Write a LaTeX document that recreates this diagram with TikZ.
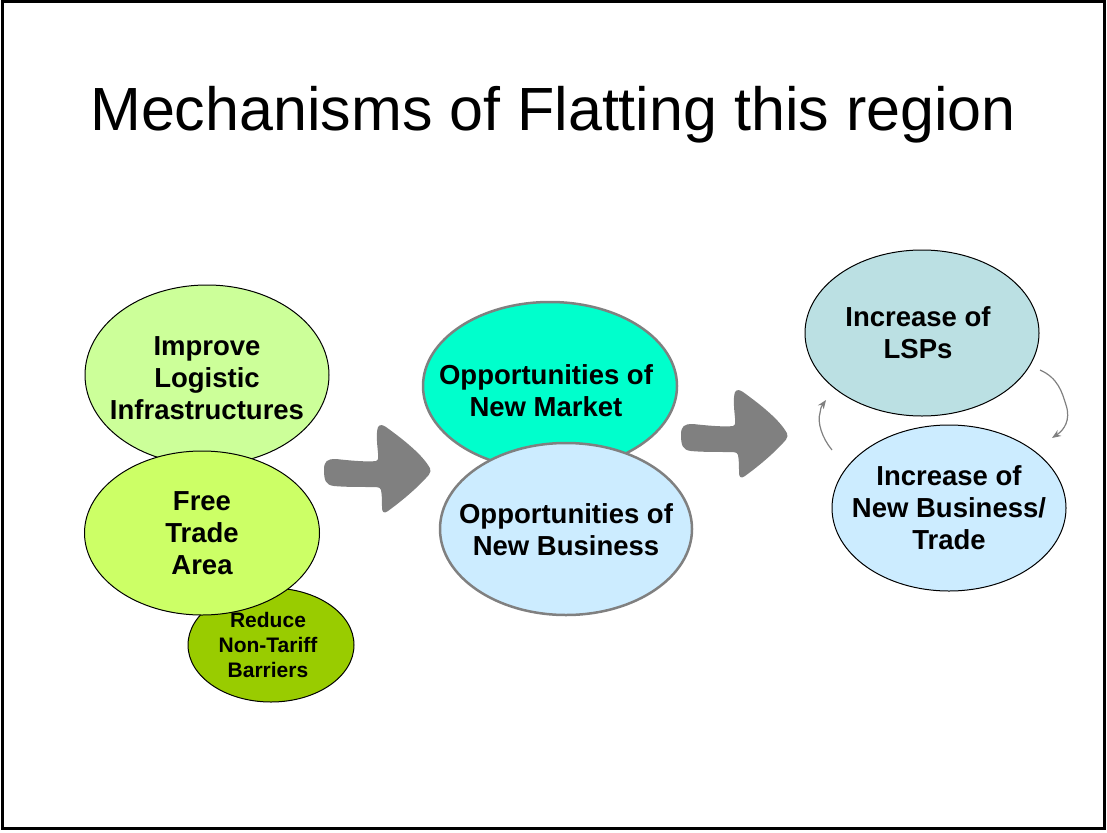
\documentclass[tikz,border=0pt]{standalone}
\usepackage{fontspec}
\setmainfont{Liberation Sans}
\usetikzlibrary{arrows.meta,shapes.geometric}

\definecolor{impgreen}{HTML}{CCFF99}
\definecolor{freegreen}{HTML}{CCFF66}
\definecolor{redgreen}{HTML}{99CC00}
\definecolor{marketcyan}{HTML}{00FFCC}
\definecolor{busblue}{HTML}{CCECFF}
\definecolor{lspteal}{HTML}{BBE0E3}
\definecolor{arrowgray}{HTML}{808080}

\begin{document}
\begin{tikzpicture}[x=1pt,y=-1pt]

\tikzset{
    bubble/.style={ellipse,draw=black,line width=1pt,inner sep=0pt},
    greybubble/.style={bubble,draw=arrowgray,line width=2.5pt},
    txt/.style={align=center,font=\bfseries\fontsize{27.5}{32}\selectfont},
    smalltxt/.style={align=center,font=\bfseries\fontsize{21}{25}\selectfont},
    cycarrow/.style={draw=arrowgray,line width=1.2pt,-{Stealth[length=9pt,width=7pt]}},
    fatarrow/.pic={
        \fill[arrowgray] (0,-3)
            .. controls (0,-12) and (3,-14) .. (12,-14)
            .. controls (30,-12) and (45,-11) .. (52,-12)
            .. controls (55,-13) and (54,-16) .. (54,-20)
            .. controls (53,-30) and (52,-40) .. (54,-46)
            .. controls (56,-49) and (59,-48) .. (62,-46)
            .. controls (80,-33) and (96,-20) .. (104,-8)
            .. controls (108,-3) and (107,0) .. (102,5)
            .. controls (90,18) and (75,30) .. (64,38)
            .. controls (60,41) and (58,39) .. (58,35)
            .. controls (58,28) and (58,22) .. (57,17)
            .. controls (56,14) and (53,14) .. (48,14)
            .. controls (35,14) and (20,14) .. (10,13)
            .. controls (2,12) and (0,8) .. cycle;
    }
}

\useasboundingbox (0,0) rectangle (1107,832);
\draw[line width=3pt] (2,2) rectangle (1104,828);

\node[anchor=base,font=\fontsize{61}{70}\selectfont] (title) at (553,130) {Mechanisms of Flatting this region};

% left group
\node[bubble,fill=impgreen,minimum width=244,minimum height=180] (infra) at (207,375) {};
\node[txt] (infratxt) at ([yshift=-3]infra) {Improve\\Logistic\\Infrastructures};

\node[bubble,fill=redgreen,minimum width=166,minimum height=114] (ntb) at (271,645) {};
\node[smalltxt] (ntbtxt) at ([xshift=-3]ntb) {Reduce\\Non-Tariff\\Barriers};

\node[bubble,fill=freegreen,minimum width=235,minimum height=164] (fta) at (202,533) {};
\node[txt] (ftatxt) at (fta) {Free\\Trade\\Area};

% middle group
\node[greybubble,fill=marketcyan,minimum width=254,minimum height=168] (market) at (550,386) {};
\node[txt] (markettxt) at ([xshift=-4,yshift=-5]market) {Opportunities of\\New Market};

\node[greybubble,fill=busblue,minimum width=252,minimum height=172] (business) at (566,529) {};
\node[txt] (businesstxt) at ([yshift=-1]business) {Opportunities of\\New Business};

% right group
\node[bubble,fill=lspteal,minimum width=234,minimum height=166] (lsp) at (922,333) {};
\node[txt] (lsptxt) at ([xshift=-4]lsp) {Increase of\\LSPs};

\node[bubble,fill=busblue,minimum width=234,minimum height=166] (trade) at (949,508) {};
\node[txt] (tradetxt) at (trade) {Increase of\\New Business/\\Trade};

% big arrows
\pic at (324,473) {fatarrow};
\pic at (681,438) {fatarrow};

% cycle
\coordinate (a1) at (1040,370);
\coordinate (a2) at (1052,438);
\coordinate (b1) at (832,450);
\coordinate (b2) at (826,400);
\draw[cycarrow] (a1) .. controls (1058,378) and (1062,392) .. (1066,405)
    .. controls (1071,420) and (1064,430) .. (a2);
\draw[cycarrow] (b1) .. controls (822,438) and (817,422) .. (820,413)
    .. controls (821,407) .. (b2);

\end{tikzpicture}
\end{document}
